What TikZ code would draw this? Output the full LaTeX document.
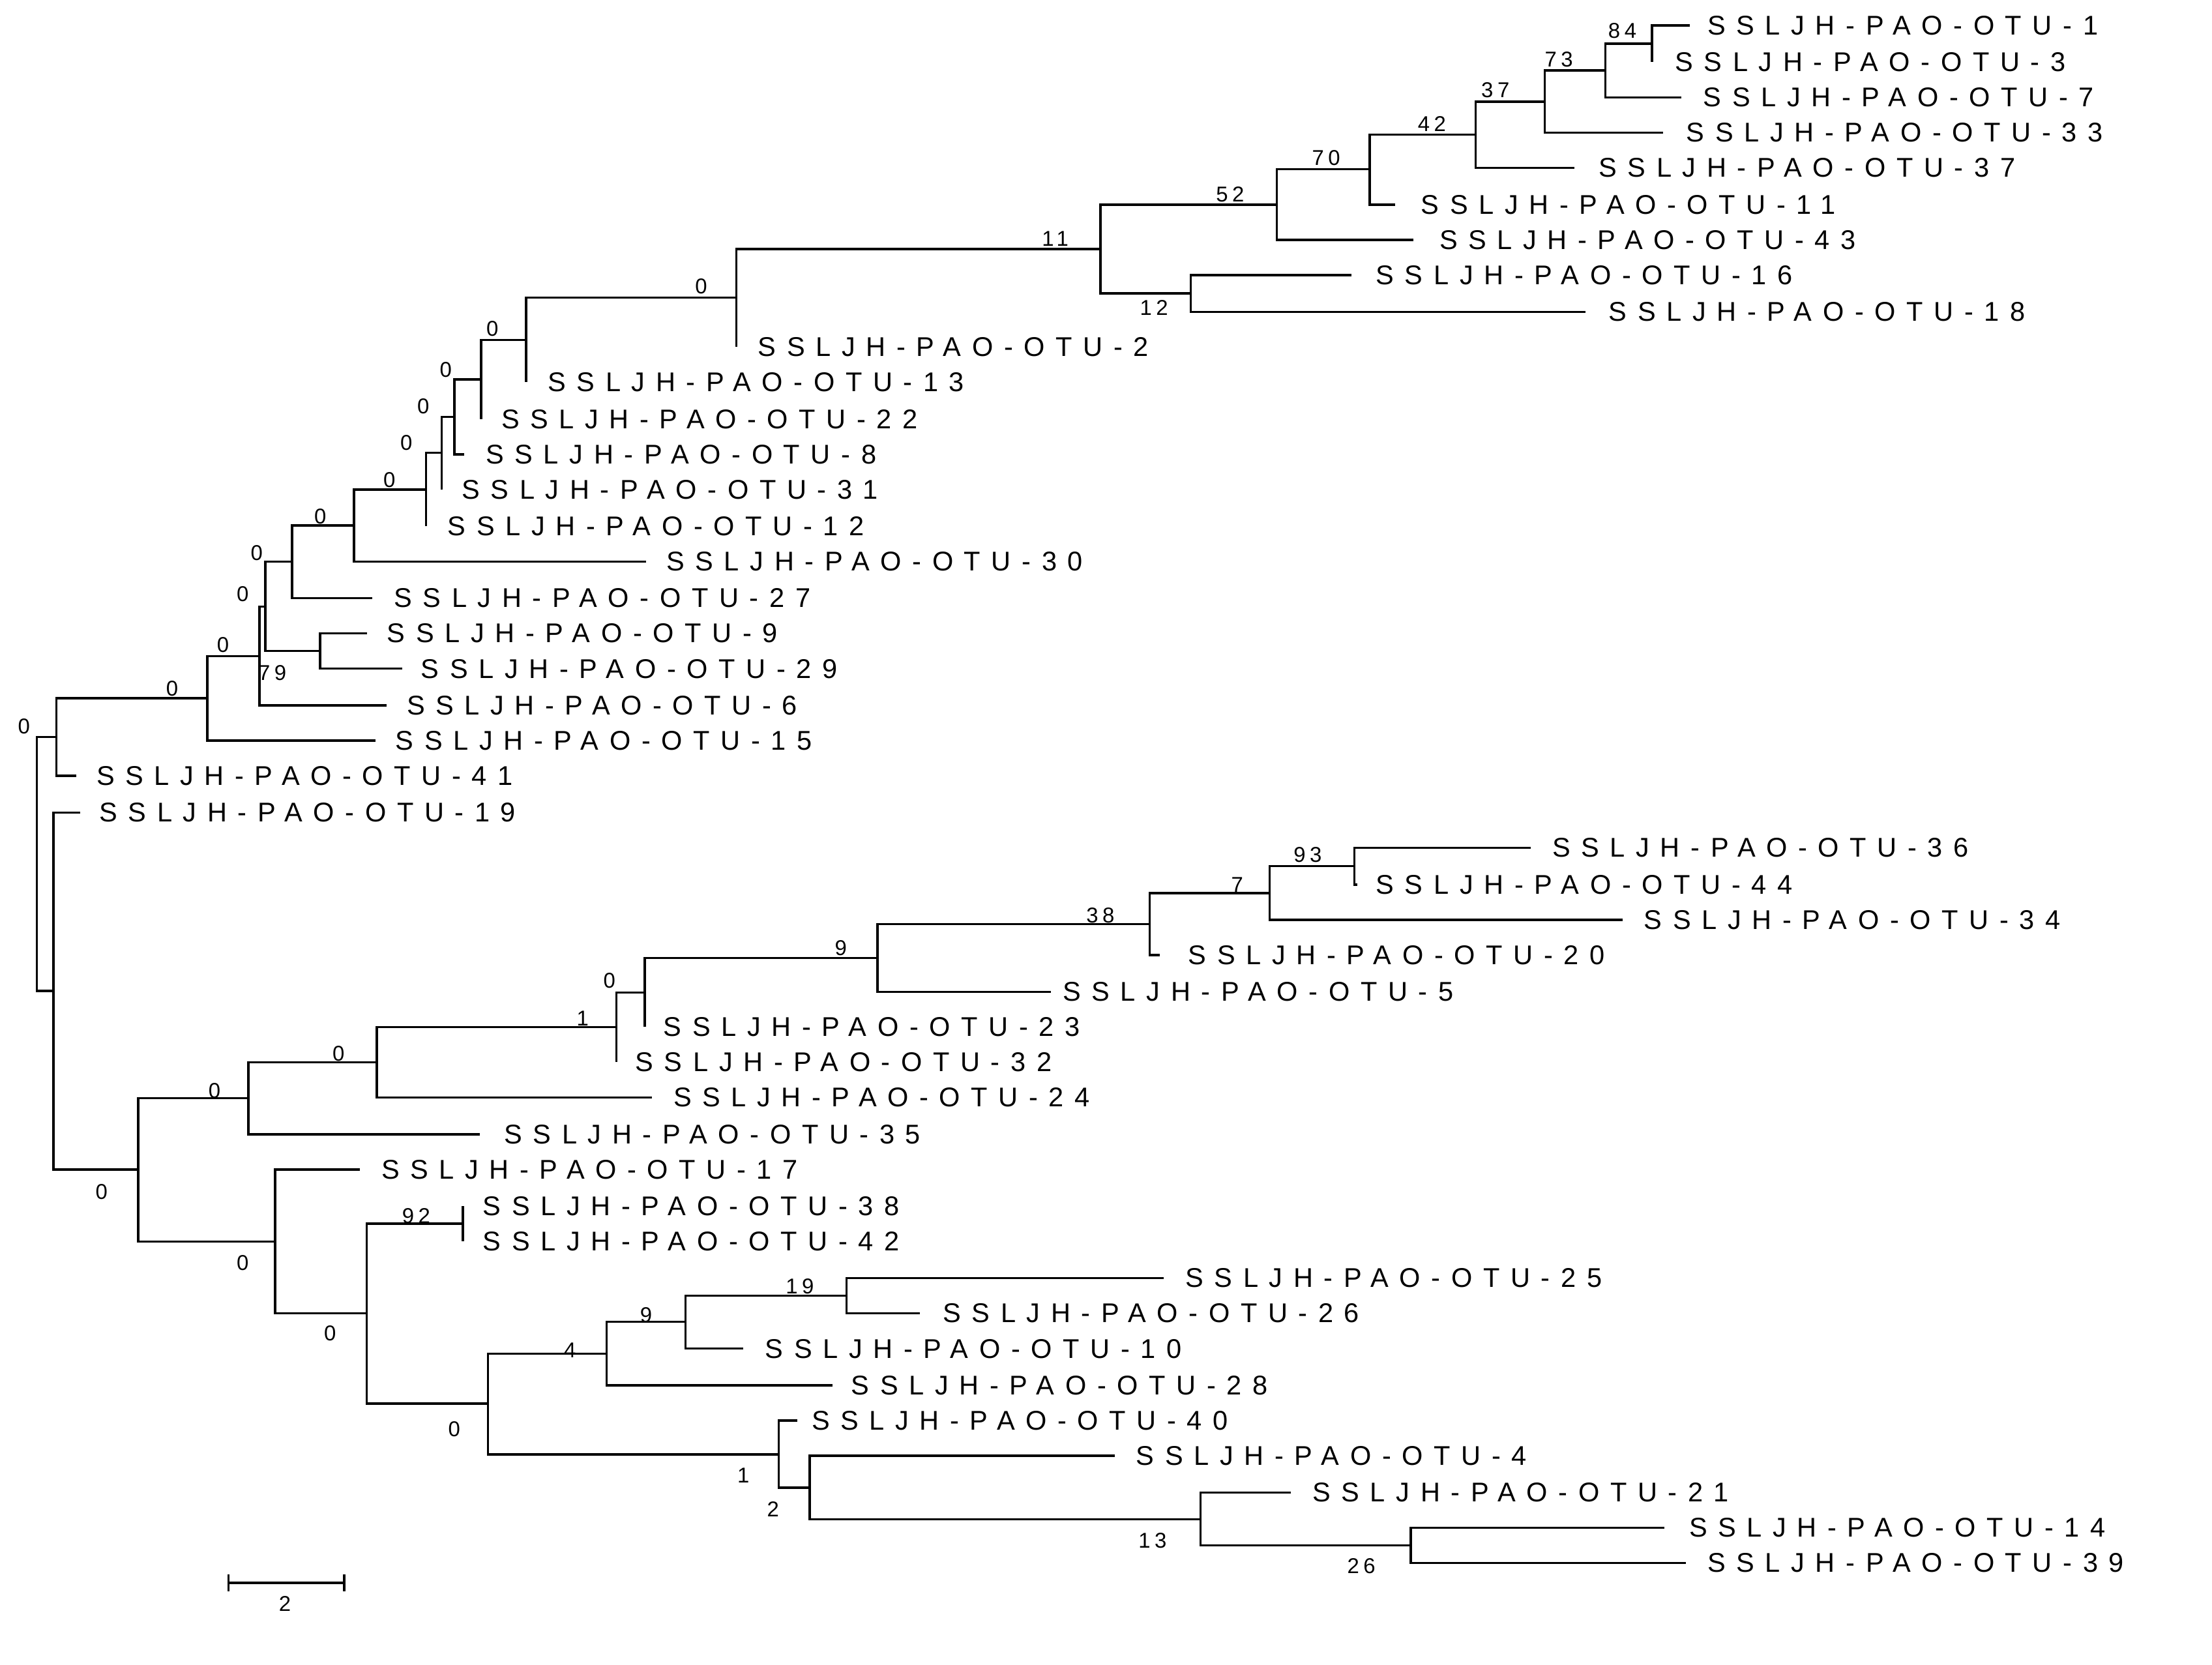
\documentclass[tikz,border=0pt]{standalone}
\usepackage{fontspec}
\setmainfont{Liberation Sans}
\begin{document}
\begin{tikzpicture}[x=0.5pt,y=-0.5pt,
  br/.style={line width=0.8pt},
  leaf/.style={anchor=west,inner sep=0pt,font=\fontsize{9.6}{10}\selectfont\addfontfeature{LetterSpace=40}},
  sup/.style={inner sep=0pt,font=\fontsize{7.6}{8}\selectfont\addfontfeature{LetterSpace=20}}]
\useasboundingbox (0,0) rectangle (1568,1180);
% leaves: id/y/end/labelx
\foreach \n/\y/\e/\l in {1/18/1198/1210,3/44/1171/1187,7/69/1192/1207,33/94/1179/1195,37/119/1116/1133,11/145/989/1007,43/170/1002/1020,16/195/958/975,18/221/1124/1140,2/246/522/537,13/271/373/388,22/297/341/355,8/322/329/344,31/347/313/327,12/373/302/317,30/398/458/472,27/424/264/279,9/449/260/274,29/474/285/298,6/500/274/288,15/525/266/280,41/550/54/68,19/576/57/70,36/601/1085/1100,44/627/962/975,34/652/1150/1165,20/677/822/842,5/703/745/753,23/728/457/470,32/753/437/450,24/778/462/477,35/804/340/357,17/829/255/270,38/855/328/342,42/880/328/342,25/906/825/840,26/931/652/668,10/956/527/542,28/982/590/603,40/1007/565/575,4/1032/790/805,21/1058/915/930,14/1083/1180/1197,39/1108/1195/1210}{
  \coordinate (l\n) at (\e,\y);
  \node[leaf] (t\n) at (\l,\y) {SSLJH-PAO-OTU-\n};
}
% internal nodes
\foreach \n/\x/\y in {n84/1171/31,n73/1138/50,n37/1095/72,n42/1046/95.5,n70/971/120,n52/905/145,n12/844/208,n11/780/176.5,n0a/522/211,n0b/373/241,n0c/341/269,n0d/322/295.5,n0e/313/321,n0f/302/347,n0g/251/372.5,n0h/207/398,n79/227/461.5,n0i/188/430,n0j/184/465,n0k/147/495,n0l/40/522.5,root/26/612.5,nb/38/702.5,nm/98/829,nn/176/778.5,np/267/753,n1/437/728,nq/457/703.5,n9/622/679,n38/815/655,n7/900/633,n93/960/614,no/195/880,nr/260/931,n92/328/867.5,ns/346/995,n4/430/959.5,n9b/486/937,n19/600/918.5,n1b/552/1031,n2/574/1054.5,n13/851/1077,n26/1000/1095.5}{
  \coordinate (\n) at (\x,\y);
}
\foreach \p/\c in {n84/l1,n84/l3,n73/n84,n73/l7,n37/n73,n37/l33,n42/n37,n42/l37,n70/n42,n70/l11,n52/n70,n52/l43,n12/l16,n12/l18,n11/n52,n11/n12,n0a/n11,n0a/l2,n0b/n0a,n0b/l13,n0c/n0b,n0c/l22,n0d/n0c,n0d/l8,n0e/n0d,n0e/l31,n0f/n0e,n0f/l12,n0g/n0f,n0g/l30,n0h/n0g,n0h/l27,n79/l9,n79/l29,n0i/n0h,n0i/n79,n0j/n0i,n0j/l6,n0k/n0j,n0k/l15,n0l/n0k,n0l/l41,root/n0l,root/nb,nb/l19,nb/nm,nm/nn,nm/no,nn/np,nn/l35,np/n1,np/l24,n1/nq,n1/l32,nq/n9,nq/l23,n9/n38,n9/l5,n38/n7,n38/l20,n7/n93,n7/l34,n93/l36,n93/l44,no/l17,no/nr,nr/n92,nr/ns,n92/l38,n92/l42,ns/n4,ns/n1b,n4/n9b,n4/l28,n9b/n19,n9b/l10,n19/l25,n19/l26,n1b/l40,n1b/n2,n2/l4,n2/n13,n13/l21,n13/n26,n26/l14,n26/l39}{
  \draw[br] (\p) |- (\c);
}
% support values
\foreach \t/\x/\y [count=\i] in {84/1150/22,73/1105/42,37/1060/64,42/1015/88,70/940/112,52/872/138,11/748/169,12/818/218,0/497/203,0/349/233,0/316/262,0/300/288,0/288/314,0/276/340,0/227/366,0/182/392,0/172/421,79/193/477,0/158/457,0/122/488,0/17/515,93/927/606,7/877/627,38/780/649,9/596/672,0/432/695,1/413/722,0/240/747,0/152/773,0/72/845,92/295/862,0/172/895,0/234/945,19/567/912,9/458/932,4/404/957,0/322/1013,1/527/1046,2/548/1070,13/817/1092,26/965/1110}{
  \node[sup] (s\i) at (\x,\y) {\t};
}
% scale bar
\coordinate (sb1) at (162,1122);
\coordinate (sb2) at (244,1122);
\draw[br] (sb1) -- (sb2);
\draw[br] ([yshift=-3pt]sb1) -- ([yshift=3pt]sb1);
\draw[br] ([yshift=-3pt]sb2) -- ([yshift=3pt]sb2);
\node[sup] (sbl) at (202,1137) {2};
\end{tikzpicture}
\end{document}
